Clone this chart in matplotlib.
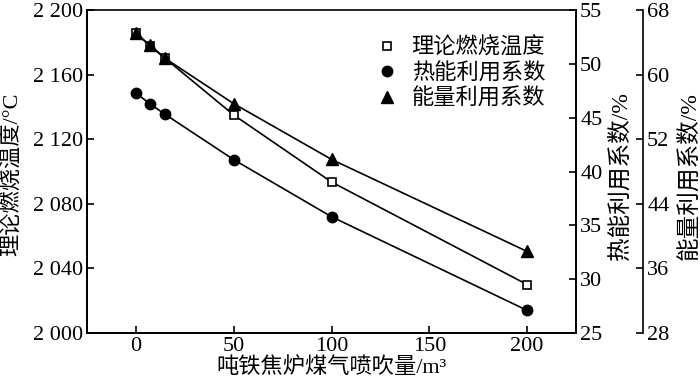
import matplotlib.pyplot as plt
from matplotlib.lines import Line2D

plt.rcParams['font.family'] = ['Liberation Serif', 'Noto Sans CJK SC']

# -----------------------------
# Data
# -----------------------------
gas = [0, 7, 15, 50, 100, 200]
temp = [2185.6, 2178, 2170, 2135, 2093.5, 2030]
heat_coef = [47.3, 46.3, 45.3, 41.1, 35.8, 27.1]
energy_coef = [65.1, 63.7, 62.0, 56.4, 49.5, 38.1]

temp_ticks = [2000, 2040, 2080, 2120, 2160, 2200]
temp_labels = ["2 000", "2 040", "2 080", "2 120", "2 160", "2 200"]
heat_ticks = [25, 30, 35, 40, 45, 50, 55]
energy_ticks = [28, 36, 44, 52, 60, 68]

# -----------------------------
# Figure
# -----------------------------
fig = plt.figure(figsize=(7, 3.84), dpi=100)
ax = fig.add_axes([87 / 700, 1 - 333 / 384, 489 / 700, 323 / 384])
ax2 = ax.twinx()
ax3 = ax.twinx()
ax3.spines["right"].set_position(("axes", 1.137))
ax2.spines["top"].set_visible(False)
ax3.spines["top"].set_visible(False)

ax.plot(gas, temp, color="black", lw=1.2, marker="s", ms=6,
        mfc="white", mec="black", mew=1.2)
ax2.plot(gas, heat_coef, color="black", lw=1.2, marker="o", ms=7.5,
         mfc="black", mec="black")
ax3.plot(gas, energy_coef, color="black", lw=1.2, marker="^", ms=8,
         mfc="black", mec="black")

ax.set_xlim(-25, 225)
ax.set_xticks([0, 50, 100, 150, 200])
ax.set_ylim(2000, 2200)
ax.set_yticks(temp_ticks)
ax.set_yticklabels(temp_labels)
ax2.set_ylim(25, 55)
ax2.set_yticks(heat_ticks)
ax3.set_ylim(28, 68)
ax3.set_yticks(energy_ticks)

for a in (ax, ax2, ax3):
    a.tick_params(direction="in", length=5, width=1.2, labelsize=16, pad=3)
    for sp in a.spines.values():
        sp.set_linewidth(1.2)

ax.set_xlabel("吨铁焦炉煤气喷吹量/m³", fontsize=16, labelpad=1)
ax.set_ylabel("理论燃烧温度/°C", fontsize=16, va="center")
ax2.set_ylabel("热能利用系数/%", fontsize=17, va="center")
ax3.set_ylabel("能量利用系数/%", fontsize=17, va="center")
ax.yaxis.set_label_coords(-0.152, 0.49)
ax2.yaxis.set_label_coords(1.092, 0.485)
ax3.yaxis.set_label_coords(1.232, 0.485)

handles = [
    Line2D([], [], linestyle="none", marker="s", ms=6, mfc="white", mec="black", mew=1.2),
    Line2D([], [], linestyle="none", marker="o", ms=7.5, mfc="black", mec="black"),
    Line2D([], [], linestyle="none", marker="^", ms=8, mfc="black", mec="black"),
]
leg = ax3.legend(handles, ["理论燃烧温度", "热能利用系数", "能量利用系数"],
                 loc="upper right", bbox_to_anchor=(0.937, 0.915), frameon=False,
                 fontsize=16, handlelength=1.0, handletextpad=0.6,
                 labelspacing=0.2, borderpad=0, borderaxespad=0)

plt.savefig("out.png", dpi=100)
